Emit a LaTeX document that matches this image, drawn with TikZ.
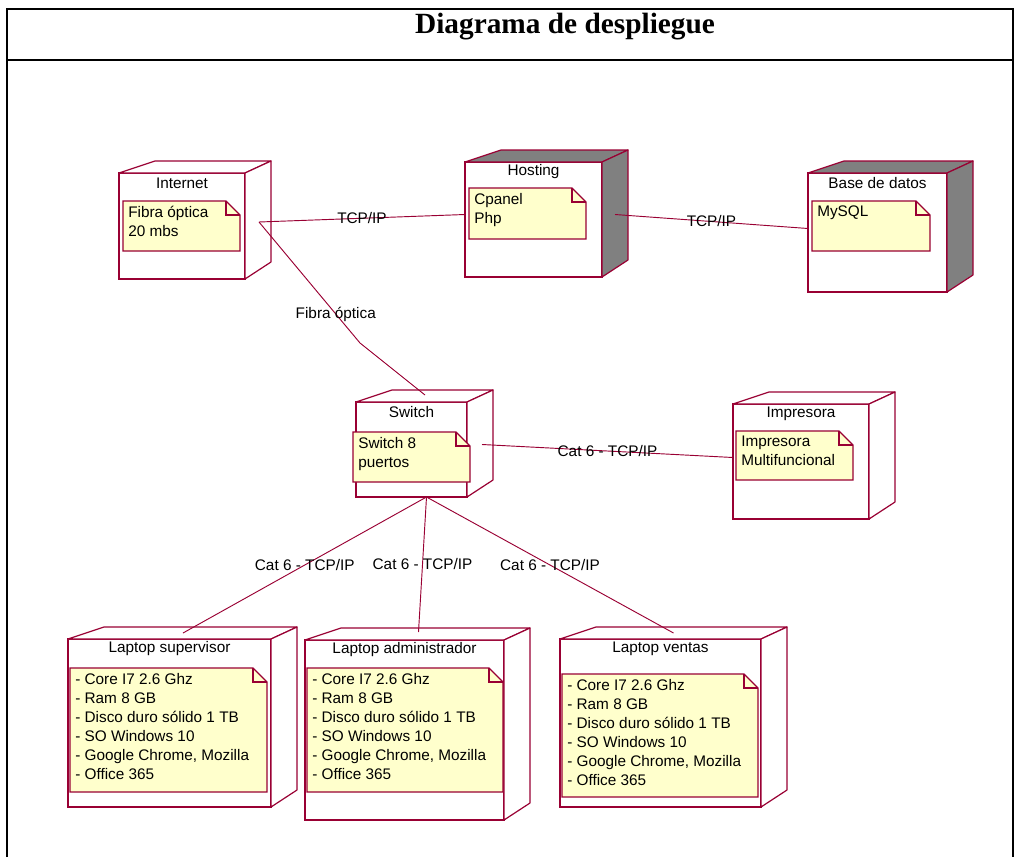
\documentclass[tikz,border=0pt]{standalone}
\usepackage{fontspec}
\setmainfont{Liberation Sans}
\newfontfamily\titlefont{Liberation Serif}
\usetikzlibrary{calc}

\definecolor{rosered}{RGB}{153,0,51}
\definecolor{notefill}{RGB}{255,255,204}
\definecolor{sidegray}{RGB}{128,128,128}

\tikzset{
  devbox/.style={draw=rosered, line width=0.9pt, fill=white, inner sep=0pt, outer sep=0pt},
  devline/.style={draw=rosered, line width=0.9pt, line join=round},
  noteline/.style={draw=rosered, line width=0.9pt, fill=notefill},
  nodetitle/.style={font=\fontsize{11.5}{13}\selectfont, inner sep=0pt},
  notetext/.style={font=\fontsize{11.5}{14.25}\selectfont, align=left, inner sep=0pt},
  conn/.style={draw=rosered, line width=0.7pt},
  lbl/.style={font=\fontsize{11.5}{13}\selectfont, inner sep=0pt, text=black},
  titletext/.style={font=\titlefont\bfseries\fontsize{22}{26}\selectfont, inner sep=0pt},
  frame/.style={line width=1.6pt}
}

% node: name, left, top, right, bottom, depth fill, title
\newcommand{\depnode}[7]{%
  \node (#1) [devbox, minimum width={(#4-#2)*0.75pt}, minimum height={(#5-#3)*0.75pt}, anchor=north west] at (#2,#3) {};
  \filldraw[devline, fill=#6] (#2,#3) -- (#2+36,#3-12) -- (#4+26,#3-12) -- (#4,#3) -- cycle;
  \filldraw[devline, fill=#6] (#4,#3) -- (#4+26,#3-12) -- (#4+26,#5-17) -- (#4,#5) -- cycle;
  \node (#1-t) [nodetitle] at ($(#1.north)+(0,10)$) {#7};
}
% note: name, left, top, right, bottom, text
\newcommand{\depnote}[6]{%
  \filldraw[noteline] (#2,#3) -- (#4-14,#3) -- (#4,#3+14) -- (#4,#5) -- (#2,#5) -- cycle;
  \draw[noteline, fill=none] (#4-14,#3) |- (#4,#3+14);
  \node (#1) [notetext, anchor=north west] at (#2+5,#3+5) {#6};
}

\begin{document}
\begin{tikzpicture}[x=0.75pt,y=-0.75pt]
\useasboundingbox (0,0) rectangle (1016,857);
% frame
\draw[frame] (7,857) -- (7,9) -- (1013,9) -- (1013,857);
\draw[frame] (7,60) -- (1013,60);
\node (title) [titletext] at (565,27) {Diagrama de despliegue};

% nodes
\depnode{inet}{119}{173}{245}{279}{white}{Internet}
\depnote{inet-n}{123}{201}{240}{251}{Fibra óptica\\20 mbs}
\depnode{host}{465}{162}{602}{277}{sidegray}{Hosting}
\depnote{host-n}{469}{188}{586}{239}{Cpanel\\Php}
\depnode{bd}{808}{173}{947}{292}{sidegray}{Base de datos}
\depnote{bd-n}{812}{201}{930}{251}{MySQL}
\depnode{sw}{356}{402}{467}{497}{white}{Switch}
\depnote{sw-n}{353}{432}{470}{482}{Switch 8\\puertos}
\depnode{imp}{733}{404}{869}{519}{white}{Impresora}
\depnote{imp-n}{736}{431}{853}{480}{Impresora\\Multifuncional}
\depnode{lsup}{68}{639}{271}{807}{white}{Laptop supervisor}
\depnote{lsup-n}{70}{668}{267}{792}{- Core I7 2.6 Ghz\\- Ram 8 GB\\- Disco duro sólido 1 TB\\- SO Windows 10\\- Google Chrome, Mozilla\\- Office 365}
\depnode{ladm}{305}{640}{504}{820}{white}{Laptop administrador}
\depnote{ladm-n}{307}{668}{503}{792}{- Core I7 2.6 Ghz\\- Ram 8 GB\\- Disco duro sólido 1 TB\\- SO Windows 10\\- Google Chrome, Mozilla\\- Office 365}
\depnode{lven}{560}{639}{761}{807}{white}{Laptop ventas}
\depnote{lven-n}{562}{674}{758}{797}{- Core I7 2.6 Ghz\\- Ram 8 GB\\- Disco duro sólido 1 TB\\- SO Windows 10\\- Google Chrome, Mozilla\\- Office 365}

% links
\coordinate (fo-bend) at (360,343);
\draw[conn] ($(inet.east)+(14,-4)$) -- node[lbl] {TCP/IP} ($(host.west)+(0,-5)$);
\draw[conn] ($(host.east)+(13,-5)$) -- node[lbl] {TCP/IP} ($(bd.west)+(0,-4)$);
\draw[conn] ($(inet.east)+(14,-4)$) -- node[lbl, pos=0.76] {Fibra óptica} (fo-bend) -- ($(sw.north)+(13.5,-7)$);
\draw[conn] ($(sw.east)+(15,-5)$) -- node[lbl] {Cat 6 - TCP/IP} ($(imp.west)+(0,-4)$);
\draw[conn] ($(sw.south)+(15,0)$) -- node[lbl] {Cat 6 - TCP/IP} ($(lsup.north)+(13.5,-6)$);
\draw[conn] ($(sw.south)+(15,0)$) -- node[lbl] {Cat 6 - TCP/IP} ($(ladm.north)+(14,-8)$);
\draw[conn] ($(sw.south)+(15,0)$) -- node[lbl] {Cat 6 - TCP/IP} ($(lven.north)+(13,-6)$);
\end{tikzpicture}
\end{document}
